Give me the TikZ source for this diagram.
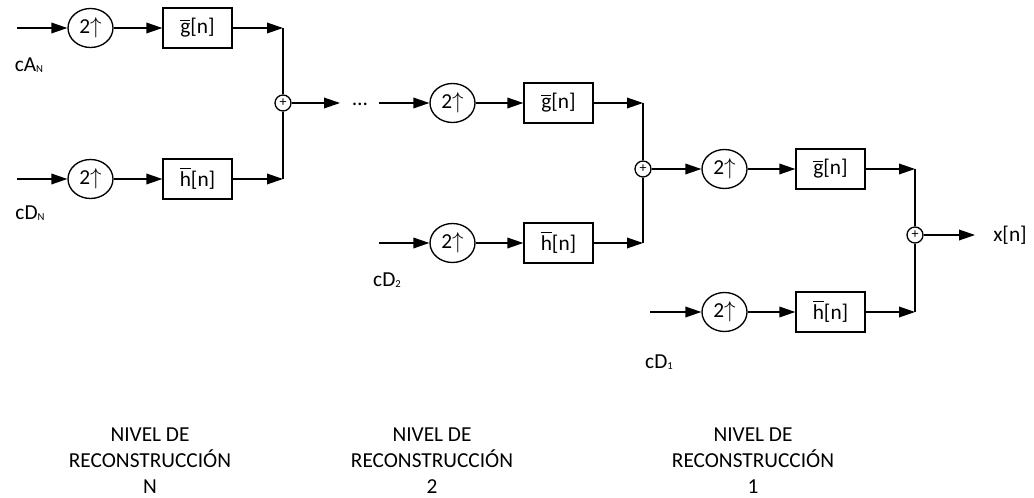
\documentclass[tikz,border=0pt]{standalone}
\usepackage{fontspec}
\setmainfont{Carlito}
\usetikzlibrary{arrows.meta,shapes.geometric}
\newcommand\ovb[1]{\setbox0\hbox{#1}\rlap{\raisebox{\dimexpr\ht0+2pt\relax}{\rule{\wd0}{0.7pt}}}#1}
\newcommand\subs[1]{\raisebox{-0.5pt}{\fontsize{8}{8}\selectfont #1}}
\tikzset{
  txt/.style={font=\fontsize{16}{19.5}\selectfont},
  updn/.style={draw, ellipse, minimum width=33.75pt, minimum height=29.25pt, inner sep=0pt, txt},
  filt/.style={draw, rectangle, minimum width=51.75pt, minimum height=30pt, inner sep=0pt, txt},
  sumn/.style={draw, circle, minimum size=12pt, inner sep=0pt, font=\fontsize{10.5}{10.5}\selectfont},
  sig/.style={-{Triangle[length=12pt,width=8pt]}},
  lbl/.style={txt, align=center, inner sep=0pt},
}
\begin{document}
\begin{tikzpicture}[x=0.75pt, y=-0.75pt, line width=1pt]
\useasboundingbox (0,0) rectangle (1034,498);
% ---------- level N ----------
\coordinate (inAN) at (17,28);
\node[updn] (uAN) at (90.5,28) {2$\uparrow$};
\node[filt] (gN) at (197.5,28) {\ovb{g}[n]};
\coordinate (jAN) at (283,28);
\coordinate (inDN) at (17,179);
\node[updn] (uDN) at (90.5,179) {2$\uparrow$};
\node[filt] (hN) at (197.5,179) {\ovb{h}[n]};
\coordinate (jDN) at (283,179);
\node[sumn] (aN) at (283,103) {+};
\coordinate (oN) at (340,103);
\node[txt, inner sep=0pt, anchor=base] (dots) at (360,105.5) {…};
\node[lbl] (cAN) at (29,65) {cA\subs{N}};
\node[lbl] (cDN) at (30,213) {cD\subs{N}};
\draw[sig] (inAN) -- (uAN.west);
\draw[sig] (uAN.east) -- (gN.west);
\draw[sig] (gN.east) -- (jAN);
\draw (jAN) -- (aN.north);
\draw[sig] (inDN) -- (uDN.west);
\draw[sig] (uDN.east) -- (hN.west);
\draw[sig] (hN.east) -- (jDN);
\draw (jDN) -- (aN.south);
\draw[sig] (aN.east) -- (oN);
% ---------- level 2 ----------
\coordinate (in2A) at (379,103);
\node[updn] (u2A) at (452.5,103) {2$\uparrow$};
\node[filt] (g2) at (558.5,103) {\ovb{g}[n]};
\coordinate (j2A) at (643,103);
\coordinate (in2D) at (379,243);
\node[updn] (u2D) at (452.5,243) {2$\uparrow$};
\node[filt] (h2) at (558.5,243) {\ovb{h}[n]};
\coordinate (j2D) at (643,243);
\node[sumn] (a2) at (643,169) {+};
\node[lbl] (cD2) at (387,280) {cD\subs{2}};
\draw[sig] (in2A) -- (u2A.west);
\draw[sig] (u2A.east) -- (g2.west);
\draw[sig] (g2.east) -- (j2A);
\draw (j2A) -- (a2.north);
\draw[sig] (in2D) -- (u2D.west);
\draw[sig] (u2D.east) -- (h2.west);
\draw[sig] (h2.east) -- (j2D);
\draw (j2D) -- (a2.south);
% ---------- level 1 ----------
\node[updn] (u1A) at (724.5,169) {2$\uparrow$};
\node[filt] (g1) at (830.5,169) {\ovb{g}[n]};
\coordinate (j1A) at (915,169);
\coordinate (in1D) at (650,312);
\node[updn] (u1D) at (724.5,312) {2$\uparrow$};
\node[filt] (h1) at (830.5,312) {\ovb{h}[n]};
\coordinate (j1D) at (915,312);
\node[sumn] (a1) at (915,235) {+};
\coordinate (o1) at (975,235);
\node[lbl] (xn) at (1010,235) {x[n]};
\node[lbl] (cD1) at (659,362) {cD\subs{1}};
\draw[sig] (a2.east) -- (u1A.west);
\draw[sig] (u1A.east) -- (g1.west);
\draw[sig] (g1.east) -- (j1A);
\draw (j1A) -- (a1.north);
\draw[sig] (in1D) -- (u1D.west);
\draw[sig] (u1D.east) -- (h1.west);
\draw[sig] (h1.east) -- (j1D);
\draw (j1D) -- (a1.south);
\draw[sig] (a1.east) -- (o1);
% ---------- level labels ----------
\node[lbl] (LN) at (150,461) {NIVEL DE\\RECONSTRUCCIÓN\\N};
\node[lbl] (L2) at (432,461) {NIVEL DE\\RECONSTRUCCIÓN\\2};
\node[lbl] (L1) at (753,461) {NIVEL DE\\RECONSTRUCCIÓN\\1};
\end{tikzpicture}
\end{document}
